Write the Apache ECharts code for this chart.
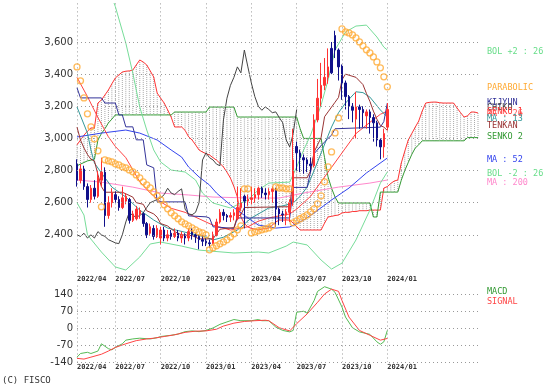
<!DOCTYPE html>
<html><head><meta charset="utf-8">
<script src="https://cdn.jsdelivr.net/npm/echarts@6/dist/echarts.min.js"></script>
<style>html,body{margin:0;padding:0;background:#fff}#c{width:551px;height:390px}</style>
</head><body><div id="c"></div>
<script>
// ---------- categories ----------
const startDateUTC = Date.UTC(2022, 3, 18); // first weekly bar (Monday)
const nSlots = 116;                          // 90 weekly bars + 26 forward (cloud)
const lastDataIdx = 89;
const dates = [];
for (let i = 0; i < nSlots; i++) {
  const d = new Date(startDateUTC + i * 7 * 86400000);
  dates.push(d.getUTCFullYear() + '/' + String(d.getUTCMonth() + 1).padStart(2, '0') + '/' + String(d.getUTCDate()).padStart(2, '0'));
}
const yTickValues = [2400, 2600, 2800, 3000, 3200, 3400, 3600];
const macdTickValues = [-140, -70, 0, 70, 140];

// ---------- price (open, close, low, high) ----------
const ohlc = [
[2840,2740,2700,2870],[2740,2810,2720,2840],[2810,2700,2680,2830],[2700,2620,2570,2720],[2620,2690,2600,2710],
[2690,2640,2620,2740],[2640,2760,2630,2800],[2740,2790,2700,2880],[2790,2520,2450,2820],[2520,2600,2500,2640],
[2600,2660,2570,2690],[2650,2620,2600,2670],[2620,2570,2550,2640],[2570,2630,2560,2700],[2610,2640,2590,2660],
[2620,2490,2470,2630],[2490,2530,2480,2550],[2500,2560,2490,2580],[2530,2550,2500,2570],[2530,2470,2450,2540],
[2470,2400,2380,2480],[2410,2450,2400,2470],[2440,2390,2370,2460],[2390,2440,2380,2460],[2380,2430,2340,2450],
[2430,2380,2360,2450],[2380,2400,2360,2430],[2410,2390,2370,2430],[2390,2410,2380,2440],[2410,2380,2360,2430],
[2380,2400,2350,2420],[2400,2380,2340,2410],[2380,2420,2360,2440],[2420,2400,2370,2440],[2400,2390,2350,2410],
[2390,2370,2310,2400],[2370,2360,2330,2400],[2360,2350,2330,2380],[2350,2345,2320,2370],[2345,2400,2340,2420],
[2400,2480,2390,2500],[2480,2540,2470,2560],[2540,2520,2490,2560],[2520,2510,2480,2530],[2510,2520,2480,2540],
[2520,2537,2490,2560],[2500,2570,2490,2700],[2570,2600,2550,2690],[2640,2610,2440,2650],[2610,2620,2580,2650],
[2620,2630,2590,2700],[2630,2650,2600,2690],[2650,2690,2620,2700],[2690,2660,2630,2700],[2660,2650,2620,2690],
[2650,2670,2620,2690],[2670,2686,2600,2700],[2686,2560,2450,2690],[2560,2530,2460,2570],[2530,2525,2480,2550],
[2525,2540,2460,2560],[2540,2600,2480,2620],[2600,2866,2580,3060],[2950,2910,2800,2980],[2910,2880,2790,2930],
[2880,2866,2780,2900],[2866,2840,2790,2880],[2840,2830,2790,2880],[2830,3115,2820,3150],[3115,3250,3100,3370],
[3250,3330,3200,3470],[3330,3380,3300,3500],[3380,3445,3340,3560],[3560,3408,3400,3600],[3640,3550,3500,3670],
[3550,3445,3360,3560],[3450,3345,3240,3460],[3345,3260,3180,3360],[3260,3200,3120,3270],[3200,3175,3100,3220],
[3120,3196,3000,3290],[3196,3180,3060,3210],[3180,3160,3070,3200],[3140,3165,3060,3180],[3165,3130,3030,3180],
[3130,3097,2980,3150],[3097,2990,2950,3110],[2990,2947,2870,3000],[2947,3030,2880,3060],[3070,3180,3050,3220]
];

// ---------- indicators ----------
const parabolic = [3445,3358,3252,3153,3072,2997,2923,2574,
2867,2860,2854,2842,2835,2823,2817,2804,2792,2773,2755,2730,2711,2692,2667,2643,2618,2587,2562,2537,2518,2500,2481,2468,2456,2443,2431,2418,2412,2400,
2307,2319,2332,2344,2356,2369,2387,2406,2431,2456,
2686,2686,
2412,2418,2425,2431,2437,2443,2456,
2699,2692,2692,2686,2686,
2475,2487,2500,2512,2524,2543,2562,2593,2643,2730,2823,2916,3034,3127,
3681,3663,3656,3644,3625,3600,3576,3551,3532,3507,3476,3439,3383,3321];

const chikou = [2400,2390,2410,2380,2400,2380,2420,2400,2390,2370,2360,2350,2345,2400,2480,2540,2520,2510,2520,2537,
2570,2600,2610,2620,2630,2650,2690,2660,2650,2670,2686,2560,2530,2525,2540,2600,2866,2910,2880,2866,
2840,2830,3115,3250,3330,3380,3445,3408,3550,3445,3345,3260,3200,3175,3196,3180,3160,3165,3130,3097,
2990,2947,3030,3180];

const senko1 = [2960,2990,3020,3045,3065,3065,3220,3239,3270,3301,3340,3376,3395,3413,3418,3420,3425,3457,3488,3475,
3457,3420,3382,3282,3250,3220,3177,3133,3071,3071,3071,3050,3010,2990,2960,2928,2915,2905,2897,2880,
2865,2845,2822,2790,2753,2700,2635,2511,2470,2449,2440,2435,2430,2435,2440,2442,2460,2480,2492,2492,
2492,2492,2473,2450,2430,2430,2430,2430,2430,2430,2430,2473,2511,2515,2520,2523,2536,2540,2540,2545,
2545,2550,2550,2550,2554,2554,2554,2554,2691,2700,2720,2735,2741,2847,2920,2990,3030,3070,3108,3170,
3220,3224,3226,3226,3222,3220,3220,3220,3220,3189,3160,3133,3140,3164,3164,3158];

const senko2 = [2830,2840,2850,2860,2865,2870,2990,3030,3060,3096,3120,
3146,3146,3146,3146,3146,3146,3146,3146,3146,3146,3146,3146,3146,3146,3146,3146,3146,
3164,3164,3164,3164,3164,3164,3164,3164,3164,3164,
3195,3195,3195,3195,3195,3195,3195,3195,
3133,3133,3133,3133,3133,3133,3133,3133,3133,3133,3133,3133,3133,3133,3133,3133,3133,3133,
3060,3000,3000,3000,3000,3000,3000,2880,2760,2690,2635,
2598,2598,2598,2598,2598,2598,2598,2598,2598,2598,2511,2511,
2666,2666,2666,2666,2666,2666,2740,2800,2850,2900,2940,2960,
2985,2985,2985,2985,2985,2985,2985,2985,2985,2985,2985,2985,2985,3005,3005,3005,3005];

const tenkan = [[0,3070],[1,2990],[2,2940],[3,2900],[4,2870],[5,2860],[6,2775],[7,2700],[8,2665],[13,2665],[16,2635],[17,2600],[19,2590],[20,2550],[22,2530],[23,2510],[24,2470],[26,2455],[28,2420],[30,2400],[33,2395],[35,2375],[39,2375],[40,2405],[41,2435],[45,2445],[46,2515],[47,2525],[48,2570],[61,2575],[62,2755],[66,2755],[67,2800],[68,2915],[70,3005],[71,3135],[72,3165],[74,3225],[75,3255],[76,3365],[77,3400],[80,3380],[82,3335],[83,3280],[84,3230],[85,3170],[86,3120],[87,3080],[88,3070],[89,3050]];
const kijun = [[0,3315],[1,3252],[7,3252],[8,3220],[11,3220],[12,3146],[13,3146],[14,3072],[16,3072],[17,2991],[19,2991],[20,2835],[22,2817],[23,2605],[31,2605],[32,2518],[37,2512],[38,2505],[39,2450],[45,2440],[46,2505],[61,2505],[62,2695],[66,2695],[67,2795],[68,2905],[70,2955],[72,3000],[73,3020],[74,3060],[87,3070],[88,3105],[89,3220]];
const ma13 = [[0,3195],[3,3033],[4,2928],[5,2847],[7,2785],[10,2697],[14,2635],[18,2554],[22,2492],[26,2442],[32,2411],[37,2386],[39,2368],[42,2385],[46,2430],[50,2505],[55,2567],[59,2580],[62,2598],[64,2640],[66,2697],[68,2800],[70,2909],[73,3071],[75,3160],[77,3220],[80,3290],[82,3285],[84,3257],[87,3177],[89,3133]];
const ma26 = [[0,3380],[3,3260],[6,3130],[9,3010],[11,2950],[14,2880],[18,2730],[21,2660],[24,2605],[27,2565],[31,2540],[35,2500],[39,2460],[44,2430],[49,2450],[52,2485],[55,2505],[61,2530],[63,2560],[65,2600],[67,2640],[70,2730],[73,2820],[77,2940],[80,3030],[84,3100],[87,3150],[89,3170]];
const ma52 = [[0,3009],[7,3033],[14,3052],[18,3033],[23,2990],[27,2928],[30,2884],[32,2822],[35,2760],[38,2710],[40,2660],[44,2586],[49,2505],[52,2461],[57,2442],[61,2449],[65,2492],[68,2536],[73,2617],[78,2691],[83,2785],[89,2878]];
const ma200 = [[0,2741],[7,2728],[16,2697],[24,2660],[32,2648],[39,2635],[50,2629],[58,2629],[65,2660],[75,2697],[84,2722],[89,2741]];
const bolUp = [[0,4150],[4,4120],[8,4000],[11,3820],[14,3593],[16,3407],[18,3195],[20,3052],[22,2928],[24,2853],[27,2803],[31,2791],[34,2741],[36,2660],[39,2598],[44,2567],[49,2617],[52,2679],[55,2722],[61,2728],[63,2822],[65,2928],[67,3021],[70,3208],[72,3363],[74,3550],[77,3662],[80,3699],[83,3705],[86,3631],[88,3568],[89,3550]];
const bolDn = [[0,2600],[2,2523],[3,2400],[7,2293],[11,2200],[14,2181],[18,2262],[21,2343],[24,2355],[30,2330],[35,2305],[45,2287],[52,2293],[55,2287],[60,2330],[62,2355],[66,2337],[70,2243],[73,2187],[76,2224],[80,2368],[84,2554],[87,2722],[89,2791]];
const macd = [[0,-120],[1,-105],[3,-100],[4,-105],[6,-95],[7,-65],[9,-85],[10,-90],[11,-80],[13,-65],[14,-50],[16,-45],[18,-42],[21,-45],[23,-40],[24,-35],[27,-30],[29,-25],[31,-15],[33,-12],[35,-15],[37,-10],[39,0],[41,15],[43,25],[45,35],[47,30],[50,30],[52,35],[53,30],[55,30],[57,4],[59,-10],[61,-16],[62,-10],[63,65],[65,69],[66,61],[68,113],[69,151],[71,170],[73,160],[74,147],[76,86],[77,45],[79,1],[81,-16],[84,-26],[86,-57],[87,-67],[88,-57],[89,-10]];
const signal = [[0,-125],[2,-128],[4,-120],[7,-108],[9,-95],[11,-80],[14,-65],[17,-52],[20,-45],[22,-42],[25,-35],[28,-28],[31,-18],[34,-13],[37,-12],[40,-5],[42,8],[45,20],[48,27],[51,30],[54,32],[55,30],[58,1],[61,-12],[63,18],[66,58],[69,106],[71,140],[73,160],[75,151],[76,113],[78,45],[81,-10],[84,-30],[87,-50],[89,-43]];

// ---------- chart ----------
const MONO = '"DejaVu Sans Mono", monospace';
const tickIdx = new Set();
for (let i = 0; i <= lastDataIdx; i++) {
  const m = +dates[i].slice(5, 7);
  const pm = i > 0 ? +dates[i - 1].slice(5, 7) : -1;
  if (i === 0 || ([1, 4, 7, 10].includes(m) && m !== pm)) tickIdx.add(i);
}
const showTick = (idx) => tickIdx.has(idx);
const gridLineStyle = { type: [1, 3], color: '#999', width: 1 };

function xAxisCfg(gi) {
  return {
    type: 'category', gridIndex: gi, data: dates, boundaryGap: false,
    axisLine: { show: false }, axisTick: { show: false, interval: showTick },
    axisLabel: { interval: showTick, formatter: v => v.slice(0, 7), align: 'left', margin: 2,
      fontSize: 7, fontWeight: 'bold', fontFamily: MONO, color: '#333' },
    splitLine: { show: true, interval: showTick, lineStyle: gridLineStyle }
  };
}
function line(name, data, color, gi, z) {
  return { name, type: 'line', xAxisIndex: gi || 0, yAxisIndex: gi || 0, data, symbol: 'none', showSymbol: false,
    lineStyle: { color, width: 1 }, itemStyle: { color }, silent: true, z: z || 3, animation: false };
}
function gridHost(gi, values) {
  return { type: 'line', xAxisIndex: gi, yAxisIndex: gi, data: [[0, values[0]]], symbol: 'none', lineStyle: { opacity: 0 }, silent: true, z: 0,
    markLine: { silent: true, symbol: ['none', 'none'], label: { show: false }, animation: false,
      lineStyle: gridLineStyle, data: values.map(v => ({ yAxis: v })) } };
}
function txt(text, x, y, color) {
  return { type: 'text', x, y, silent: true, style: { text, fill: color, font: '8.5px ' + MONO, verticalAlign: 'middle' } };
}

const option = {
  animation: false,
  backgroundColor: '#fff',
  grid: [
    { left: 77, width: 401, top: 3.4, height: 270 },
    { left: 77, width: 401, top: 285.5, height: 76.5 }
  ],
  xAxis: [xAxisCfg(0), xAxisCfg(1)],
  yAxis: [
    { type: 'value', gridIndex: 0, min: 2160, max: 3840, interval: 40,
      axisLine: { show: false }, axisTick: { show: false }, splitLine: { show: false },
      axisLabel: { margin: 4, fontSize: 10, fontFamily: '"DejaVu Sans", sans-serif', color: '#333',
        formatter: v => yTickValues.includes(v) ? v.toLocaleString('en-US') : '' } },
    { type: 'value', gridIndex: 1, min: -140, max: 175, interval: 35,
      axisLine: { show: false }, axisTick: { show: false }, splitLine: { show: false },
      axisLabel: { margin: 4, fontSize: 10, fontFamily: '"DejaVu Sans", sans-serif', color: '#333',
        formatter: v => macdTickValues.includes(v) ? String(v) : '' } }
  ],
  series: [
    gridHost(0, yTickValues),
    gridHost(1, macdTickValues),
    { type: 'custom', xAxisIndex: 0, yAxisIndex: 0, silent: true, z: 1,
      data: senko1.map((v, i) => [i, v, senko2[i]]),
      encode: { x: 0, y: [1, 2] },
      renderItem: (params, api) => {
        const i = api.value(0);
        const a = api.coord([i, api.value(1)]);
        const b = api.coord([i, api.value(2)]);
        return { type: 'line', shape: { x1: a[0], y1: a[1], x2: b[0], y2: b[1] },
          style: { stroke: '#a8a8a8', lineWidth: 1, lineDash: [1, 1] } };
      } },
    line('SENKO 1', senko1, '#ff3333'),
    line('SENKO 2', senko2, '#339933'),
    line('MA 200', ma200, '#ff88cc'),
    line('MA 52', ma52, '#3344ee'),
    line('BOL +2', bolUp, '#77dd99'),
    line('BOL -2', bolDn, '#77dd99'),
    line('MA 26', ma26, '#ff4444'),
    line('MA 13', ma13, '#339999'),
    line('KIJYUN', kijun, '#333399'),
    line('TENKAN', tenkan, '#993333'),
    line('CHIKO', chikou, '#444444'),
    { type: 'candlestick', xAxisIndex: 0, yAxisIndex: 0, data: ohlc, barWidth: 2, silent: true, z: 4,
      itemStyle: { color: '#ff3333', color0: '#10108a', borderColor: '#ff3333', borderColor0: '#10108a', borderWidth: 1 } },
    { type: 'scatter', xAxisIndex: 0, yAxisIndex: 0, data: parabolic, symbol: 'circle', symbolSize: 6, silent: true, z: 5,
      itemStyle: { color: 'rgba(255,255,255,0)', borderColor: '#ffaa33', borderWidth: 1.3 } },
    line('MACD', macd, '#55bb55', 1),
    line('SIGNAL', signal, '#ff4444', 1)
  ],
  graphic: [
    txt('BOL +2 : 26', 487, 52, '#66dd88'),
    txt('PARABOLIC', 487, 88, '#ffaa33'),
    txt('KIJYUN', 487, 103, '#333399'),
    txt('CHIKO', 487, 108, '#444444'),
    txt('SENKO 1', 487, 112, '#ff3333'),
    txt('MA : 26', 487, 114, '#ff5555'),
    txt('MA : 13', 487, 119, '#339999'),
    txt('TENKAN', 487, 126, '#993333'),
    txt('SENKO 2', 487, 137, '#339933'),
    txt('MA : 52', 487, 160, '#3344ee'),
    txt('BOL -2 : 26', 487, 174, '#66dd88'),
    txt('MA : 200', 487, 183, '#ff88cc'),
    txt('MACD', 487, 292, '#339933'),
    txt('SIGNAL', 487, 302, '#ff4444'),
    { type: 'text', x: 2, y: 381, silent: true, style: { text: '(C) FISCO', fill: '#333', font: '9px ' + MONO, verticalAlign: 'middle' } }
  ]
};
const chart = echarts.init(document.getElementById('c'));
chart.setOption(option);
</script>
</body></html>
